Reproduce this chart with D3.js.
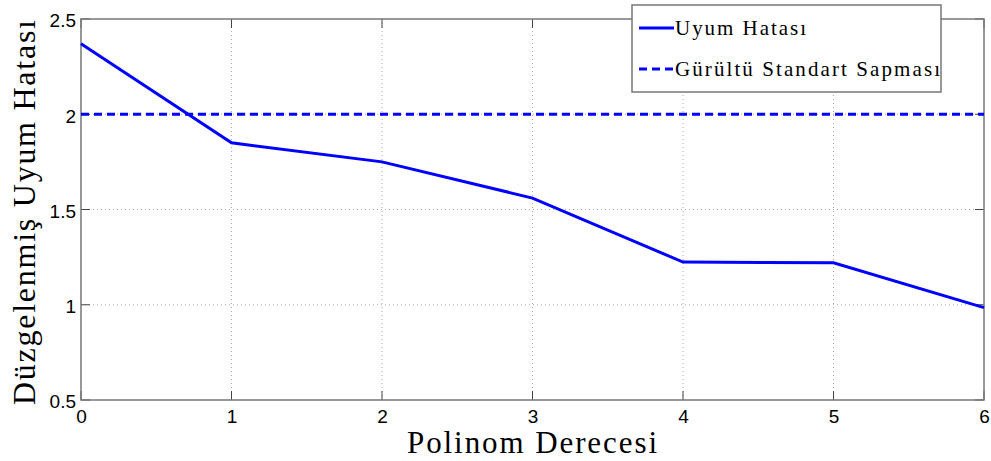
<!DOCTYPE html>
<html>
<head>
<meta charset="utf-8">
<script src="https://cdn.jsdelivr.net/npm/d3@7"></script>
<style>
  body { margin: 0; background: #fff; }
  .serif { font-family: "Liberation Serif", "Times New Roman", serif; fill: #000; }
</style>
</head>
<body>
<div id="chart"></div>
<script>
// polynomial degree vs normalized fit error
var degrees = [0, 1, 2, 3, 4, 5, 6];
var fitError = [2.37, 1.85, 1.75, 1.56, 1.224, 1.22, 0.985];
var noiseStd = 2;
var yTicks = [0.5, 1, 1.5, 2, 2.5];
var legendLabels = ["Uyum Hatası", "Gürültü Standart Sapması"];

var svgWidth = 991, svgHeight = 461;
var margin = { top: 19, right: 7, bottom: 61, left: 81 };
var width = svgWidth - margin.left - margin.right;
var height = svgHeight - margin.top - margin.bottom;

var svg = d3.select("#chart")
  .append("svg")
  .attr("width", svgWidth)
  .attr("height", svgHeight);

var chartGroup = svg.append("g")
  .attr("transform", `translate(${margin.left}, ${margin.top})`);

var xScale = d3.scaleLinear().domain([0, 6]).range([0, width]);
var yScale = d3.scaleLinear().domain([0.5, 2.5]).range([height, 0]);

// dotted grid
chartGroup.append("g")
  .selectAll("line")
  .data(degrees.slice(1, -1))
  .enter().append("line")
  .attr("x1", d => xScale(d)).attr("x2", d => xScale(d))
  .attr("y1", 0).attr("y2", height)
  .attr("stroke", "#aaa").attr("stroke-dasharray", "1,3");

chartGroup.append("g")
  .selectAll("line")
  .data(yTicks.slice(1, -1))
  .enter().append("line")
  .attr("y1", d => yScale(d)).attr("y2", d => yScale(d))
  .attr("x1", 0).attr("x2", width)
  .attr("stroke", "#aaa").attr("stroke-dasharray", "1,3");

// axes
var bottomAxis = d3.axisBottom(xScale).tickValues(degrees).tickSize(0).tickPadding(10)
  .tickFormat(d3.format("d"));
var leftAxis = d3.axisLeft(yScale).tickValues(yTicks).tickSize(0).tickPadding(5)
  .tickFormat(d3.format("~g"));

var xAxisG = chartGroup.append("g")
  .attr("transform", `translate(0, ${height})`)
  .call(bottomAxis);
xAxisG.select(".domain").remove();

var yAxisG = chartGroup.append("g").call(leftAxis);
yAxisG.select(".domain").remove();

[xAxisG, yAxisG].forEach(function (g) {
  g.attr("font-family", "'Liberation Sans', Arial, sans-serif")
    .attr("font-size", 19);
  g.selectAll("text").attr("fill", "#000");
});
yAxisG.selectAll("text").attr("dy", "0.42em");

// inner tick marks on all four sides
var tickLen = 9;
var marks = chartGroup.append("g").attr("stroke", "#444").attr("stroke-width", 1);
degrees.forEach(function (d) {
  marks.append("line").attr("x1", xScale(d)).attr("x2", xScale(d))
    .attr("y1", height).attr("y2", height - tickLen);
  marks.append("line").attr("x1", xScale(d)).attr("x2", xScale(d))
    .attr("y1", 0).attr("y2", tickLen);
});
yTicks.forEach(function (d) {
  marks.append("line").attr("y1", yScale(d)).attr("y2", yScale(d))
    .attr("x1", 0).attr("x2", tickLen);
  marks.append("line").attr("y1", yScale(d)).attr("y2", yScale(d))
    .attr("x1", width).attr("x2", width - tickLen);
});

// box
chartGroup.append("rect")
  .attr("x", 0).attr("y", 0)
  .attr("width", width).attr("height", height)
  .attr("fill", "none").attr("stroke", "#777").attr("stroke-width", 1.5);

// noise std reference line
chartGroup.append("line")
  .attr("x1", xScale(0)).attr("x2", xScale(6))
  .attr("y1", yScale(noiseStd)).attr("y2", yScale(noiseStd))
  .attr("stroke", "#0000ff").attr("stroke-width", 3)
  .attr("stroke-dasharray", "8,5");

// fit error line
var line = d3.line()
  .x((d, i) => xScale(degrees[i]))
  .y(d => yScale(d));

chartGroup.append("path")
  .datum(fitError)
  .attr("d", line)
  .attr("fill", "none")
  .attr("stroke", "#0000ff")
  .attr("stroke-width", 3);

// axis titles (stretched to the wider TeX font of the original)
svg.append("text")
  .attr("class", "serif")
  .attr("x", 407).attr("y", 453)
  .attr("font-size", "31px")
  .attr("textLength", 250)
  .attr("lengthAdjust", "spacing")
  .text("Polinom Derecesi");

svg.append("text")
  .attr("class", "serif")
  .attr("transform", "translate(35, 405) rotate(-90)")
  .attr("font-size", "32px")
  .attr("textLength", 385)
  .attr("lengthAdjust", "spacing")
  .text("Düzgelenmiş Uyum Hatası");

// legend
var legend = svg.append("g").attr("transform", "translate(632, 5)");
legend.append("rect")
  .attr("width", 309).attr("height", 87)
  .attr("fill", "#fff").attr("stroke", "#777").attr("stroke-width", 1.5);

var legendWidths = [131, 265];
var legendRows = legend.selectAll(".row")
  .data(legendLabels)
  .enter().append("g")
  .attr("transform", (d, i) => `translate(0, ${23 + i * 41})`);

legendRows.append("line")
  .attr("x1", 7).attr("x2", 42)
  .attr("stroke", "#0000ff").attr("stroke-width", 3)
  .attr("stroke-dasharray", (d, i) => i === 0 ? null : "8,5");

legendRows.append("text")
  .attr("class", "serif")
  .attr("x", 43).attr("y", 7)
  .attr("font-size", "21px")
  .attr("textLength", (d, i) => legendWidths[i])
  .attr("lengthAdjust", "spacing")
  .text(d => d);
</script>
</body>
</html>
